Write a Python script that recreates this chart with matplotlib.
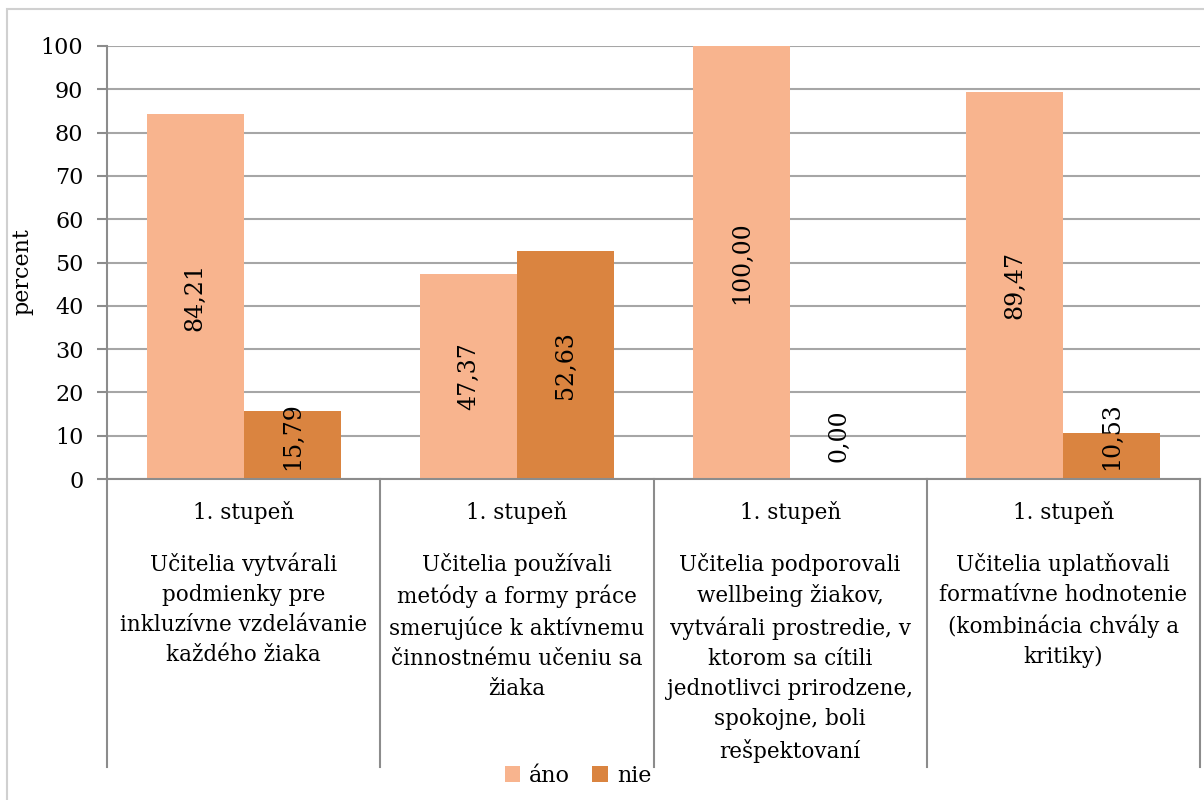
import numpy as np
import matplotlib
matplotlib.use('Agg')
import matplotlib.pyplot as plt
from matplotlib.patches import Rectangle, Patch
from matplotlib.transforms import blended_transform_factory

plt.rcParams['font.family'] = ['DejaVu Serif']

# -- data
level      = ['1. stupeň'] * 4
categories = ['Učitelia vytvárali\npodmienky pre\ninkluzívne vzdelávanie\nkaždého žiaka',
              'Učitelia používali\nmetódy a formy práce\nsmerujúce k aktívnemu\nčinnostnému učeniu sa\nžiaka',
              'Učitelia podporovali\nwellbeing žiakov,\nvytvárali prostredie, v\nktorom sa cítili\njednotlivci prirodzene,\nspokojne, boli\nrešpektovaní',
              'Učitelia uplatňovali\nformatívne hodnotenie\n(kombinácia chvály a\nkritiky)']
ano        = [84.21, 47.37, 100.00, 89.47]
nie        = [15.79, 52.63, 0.00, 10.53]
series     = ['áno', 'nie']
colors     = ['#F8B48E', '#DA8440']

W, H   = 1204, 800
fig    = plt.figure(figsize=(W / 100, H / 100), dpi=100)

x0, x1 = 107, 1200
y0, y1 = 479, 46
ax     = fig.add_axes([x0 / W, 1 - y0 / H, (x1 - x0) / W, (y0 - y1) / H])

# outer chart border
fig.patches.append(Rectangle((7 / W, -0.1), 1.2, 1 - 9 / H + 0.1, transform=fig.transFigure,
                             fill=False, edgecolor='#d0d0d0', lw=1.5, zorder=0))

n      = len(categories)
xc     = np.arange(n) + 0.5
bw     = 0.355

ax.bar(xc - bw / 2, ano, width=bw, color=colors[0], zorder=3)
ax.bar(xc + bw / 2, nie, width=bw, color=colors[1], zorder=3)

# data labels, rotated, centred in bar (pushed up for short bars)
for vals, off in [(ano, -bw / 2), (nie, bw / 2)]:
    for xi, v in zip(xc, vals):
        ypos = max(v / 2, 10.0)
        ax.text(xi + off, ypos, '{:.2f}'.format(v).replace('.', ','), rotation=90,
                ha='center', va='center', fontsize=17, color='black', zorder=4)

ax.set_xlim(0, n)
ax.set_ylim(0, 100)
ax.set_yticks(np.arange(0, 101, 10))
ax.yaxis.grid(True, color='#A6A6A6', lw=1.5, zorder=0)
ax.set_axisbelow(True)
ax.set_xticks([])

for s in ['top', 'right', 'bottom']:
    ax.spines[s].set_visible(False)
ax.spines['left'].set_color('#8C8C8C')
ax.spines['left'].set_linewidth(1.5)
ax.axhline(0, color='#8C8C8C', lw=1.5, zorder=5, clip_on=False)

ax.tick_params(axis='y', length=7, width=1.5, color='#8C8C8C', pad=10, labelsize=16)

ax.set_ylabel('percent', fontsize=16)
ax.yaxis.set_label_coords((33 - x0) / (x1 - x0), 0.48)

# category axis boxes
tr     = blended_transform_factory(ax.transData, ax.transAxes)
ybot   = -(767 - y0) / (y0 - y1)
for i in range(n + 1):
    ax.plot([i, i], [0, ybot], color='#8C8C8C', lw=1.5, transform=tr, clip_on=False)

ylev   = -(513 - y0) / (y0 - y1)
ycat   = -(553 - y0) / (y0 - y1)
for xi, lv, cat in zip(xc, level, categories):
    ax.text(xi, ylev, lv, transform=tr, ha='center', va='center', fontsize=15.5)
    ax.text(xi, ycat, cat, transform=tr, ha='center', va='top', fontsize=15.5,
            linespacing=1.47)

handles = [Patch(facecolor=c, edgecolor='none') for c in colors]
fig.legend(handles, series, loc='center', bbox_to_anchor=(578 / W, 1 - 776 / H), ncol=2,
           frameon=False, fontsize=16, handlelength=0.7, handleheight=0.7,
           handletextpad=0.4, columnspacing=1.0)

fig.savefig('out.png', dpi=100)
